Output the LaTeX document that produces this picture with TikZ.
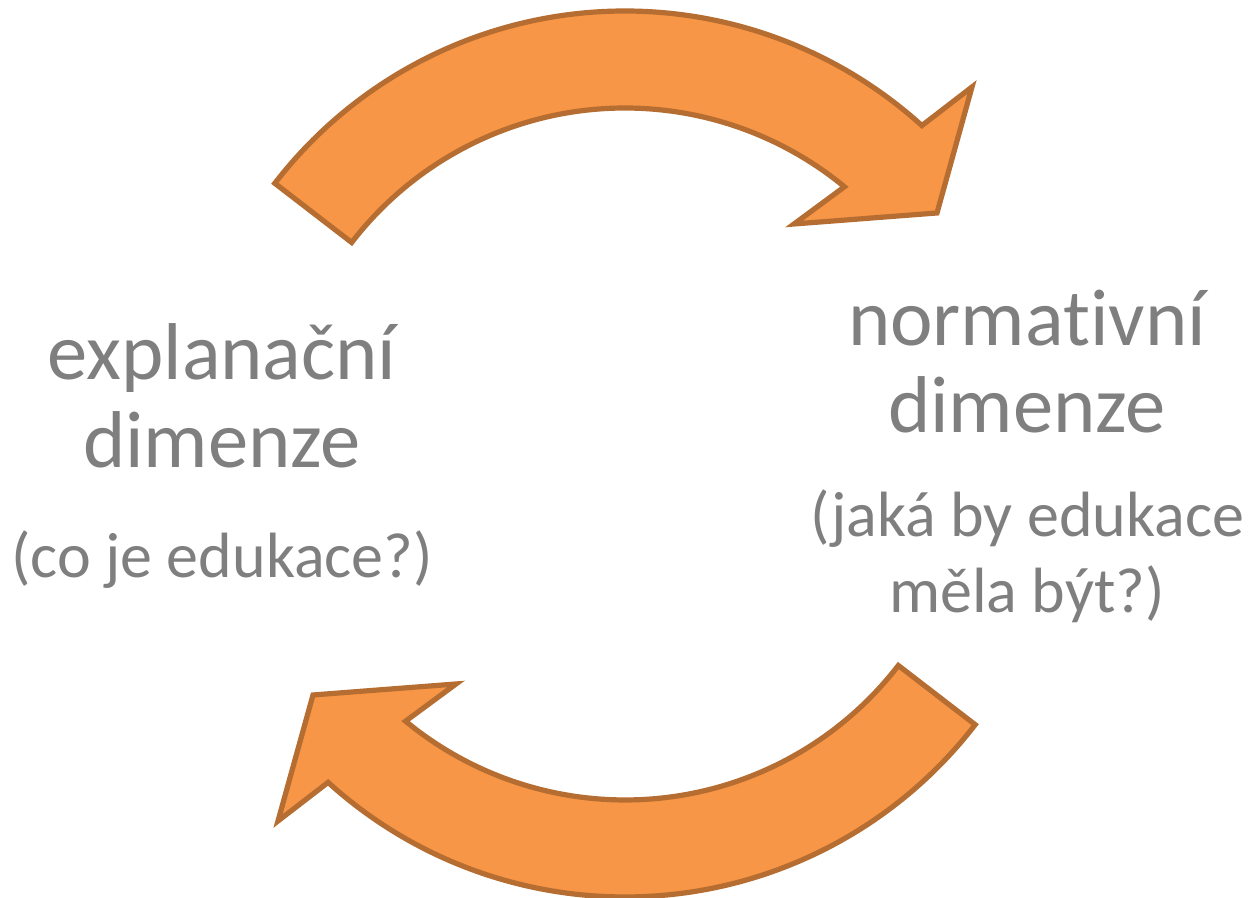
\documentclass[tikz,border=0pt]{standalone}
\usepackage{fontspec}
\setmainfont{Carlito}
\newfontfamily\bigtext[Ligatures={NoCommon}]{Carlito}
\definecolor{arrowfill}{HTML}{F79646}
\definecolor{arrowline}{HTML}{B66D31}
\definecolor{txtgray}{HTML}{7F7F7F}
\tikzset{
  arrowbody/.style={fill=arrowfill, draw=arrowline, line width=2.6pt, line join=miter},
  title/.style={anchor=base, text=txtgray, inner sep=0pt, font=\bigtext\fontsize{40.3}{48}\selectfont},
  subtitle/.style={anchor=base, text=txtgray, inner sep=0pt, font=\bigtext\fontsize{32}{38}\selectfont},
  pics/curvedarrow/.style={code={
    \path[arrowbody] (142.4:221pt) arc[start angle=142.4, end angle=47.8, radius=221pt]
      -- (347,366) -- (312,240) -- (169,229)
      -- (50.5:172.5pt) arc[start angle=50.5, end angle=142.4, radius=172.5pt] -- cycle;
  }}
}
\begin{document}
\begin{tikzpicture}[x=0.5pt,y=0.5pt]
\useasboundingbox (0,0) rectangle (1250,898);
\pic (toparrow) at (625,445) {curvedarrow};
\pic[rotate=180] (bottomarrow) at (625,443) {curvedarrow};
\node[title] (ex1) at (222,518) {explanační};
\node[title] (ex2) at (222,430) {dimenze};
\node[subtitle] (ex3) at (222,320) {(co je edukace?)};
\node[title] (no1) at (1027,552) {normativní};
\node[title] (no2) at (1027,465) {dimenze};
\node[subtitle] (no3) at (1027,361) {(jaká by edukace};
\node[subtitle] (no4) at (1027,285) {měla být?)};
\end{tikzpicture}
\end{document}
